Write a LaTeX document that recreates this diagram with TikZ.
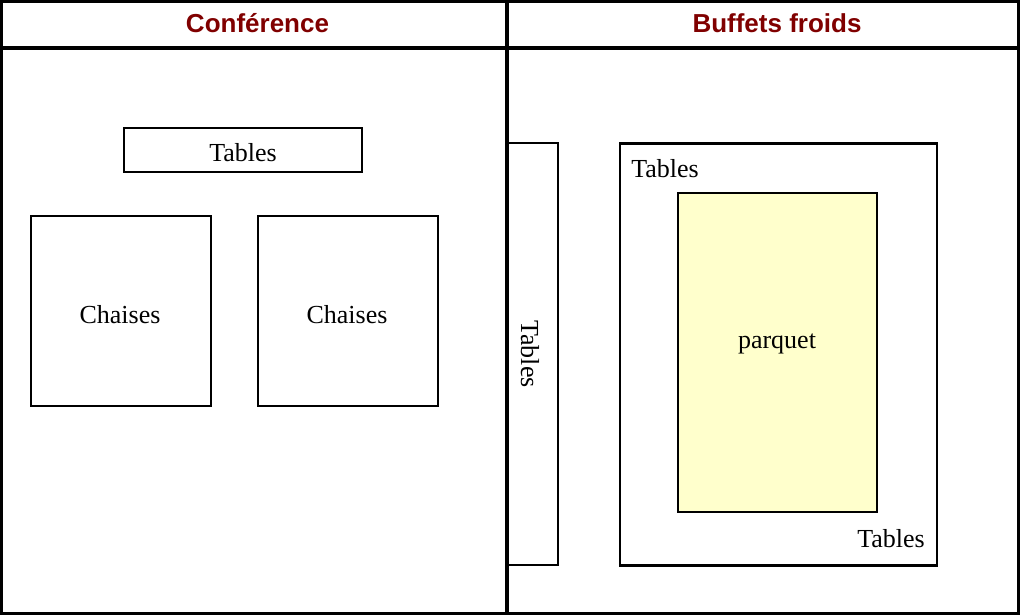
\documentclass[tikz,border=0pt]{standalone}
\usepackage{fontspec}
\setmainfont{Liberation Serif}
\newfontfamily\hdfont{Liberation Sans}
\definecolor{hdred}{HTML}{800000}
\definecolor{parq}{HTML}{FFFFCC}
\begin{document}
\begin{tikzpicture}[x=0.75pt,y=-0.75pt,
  frame/.style={line width=2.3pt},
  box/.style={draw, line width=1.6pt, inner sep=0pt, rectangle},
  lbl/.style={font=\fontsize{19.5}{22}\selectfont, inner sep=0pt, anchor=base},
  hd/.style={font=\hdfont\bfseries\fontsize{19.5}{22}\selectfont, text=hdred, inner sep=0pt, anchor=base}]
\useasboundingbox (0,0) rectangle (1020,615);
% frame
\coordinate (tl) at (1.5,1.5);
\coordinate (br) at (1018.5,613.5);
\coordinate (hl) at (1.5,48);
\coordinate (hr) at (1018.5,48);
\coordinate (dt) at (507,1.5);
\coordinate (db) at (507,613.5);
\draw[frame] (tl) rectangle (br);
\draw[frame] (hl) -- (hr);
\draw[frame] (dt) -- (db);
% headers
\node[hd] (h1) at (257.5,32.5) {Conférence};
\node[hd] (h2) at (777,32.5) {Buffets froids};
% left room
\node[box, minimum width=178.5pt, minimum height=33pt] (t1) at (243,150) {};
\node[lbl] (t1l) at (243,161) {Tables};
\node[box, minimum width=135pt, minimum height=142.5pt] (c1) at (121,311) {};
\node[lbl] (c1l) at (120,323) {Chaises};
\node[box, minimum width=135pt, minimum height=142.5pt] (c2) at (348,311) {};
\node[lbl] (c2l) at (347,323) {Chaises};
% right room
\node[box, minimum width=37.5pt, minimum height=316.5pt] (t2) at (533,354) {};
\node[lbl, anchor=center, rotate=-90] (t2l) at (530,354) {Tables};
\node[box, minimum width=237.75pt, minimum height=316.5pt] (big) at (778.5,354.5) {};
\node[box, fill=parq, minimum width=149.25pt, minimum height=239.25pt] (pq) at (777.5,352.5) {};
\node[lbl] (pql) at (777,348) {parquet};
\node[lbl] (t3) at (665,177) {Tables};
\node[lbl] (t4) at (891,547) {Tables};
\end{tikzpicture}
\end{document}
